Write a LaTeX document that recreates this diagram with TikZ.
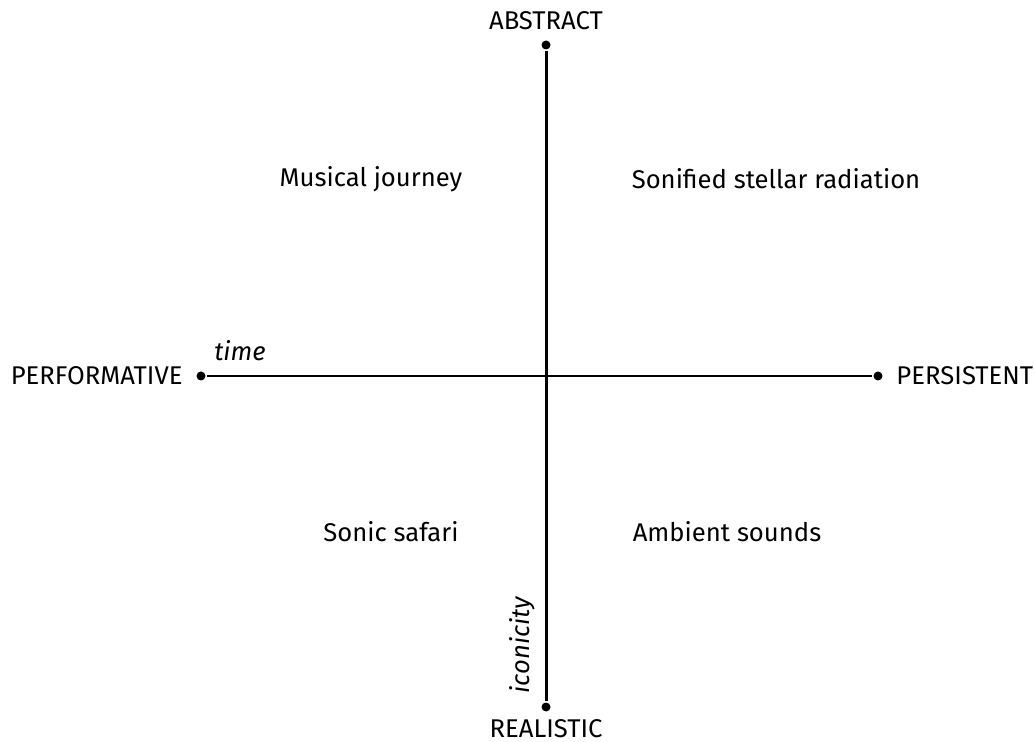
\documentclass[tikz,border=0pt]{standalone}
\usepackage{fontspec}
\setmainfont{Fira Sans}
\usetikzlibrary{positioning}

\begin{document}
\begin{tikzpicture}[x=0.02cm,y=-0.02cm,line width=1.7pt,
  pole/.style={font=\fontsize{14.6}{16}\selectfont,inner sep=0pt},
  example/.style={font=\fontsize{14.6}{16}\selectfont,inner sep=0pt},
  axislabel/.style={font=\fontsize{14.6}{16}\selectfont\itshape,inner sep=0pt},
  end dot/.style={circle,fill=black,inner sep=0pt,minimum size=0.18cm}]

  \useasboundingbox (0,0) rectangle (1034,742);

  % axis ends
  \node[end dot] (top) at (546,45) {};
  \node[end dot] (bottom) at (546,707) {};
  \node[end dot] (left) at (201,376) {};
  \node[end dot] (right) at (878,376) {};

  \draw (top) -- (bottom);
  \draw (left) -- (right);

  % poles
  \node[pole] (abstract) at (546,21) {ABSTRACT};
  \node[pole,anchor=base] (realistic) at (546,737) {REALISTIC};
  \node[pole,left=0.22cm of left] (performative) {PERFORMATIVE};
  \node[pole,right=0.22cm of right] (persistent) {PERSISTENT};

  % axis names
  \node[axislabel] (time) at (240,351) {time};
  \node[axislabel,rotate=90] (iconicity) at (522,645) {iconicity};

  % examples
  \node[example] (journey) at (371,179) {Musical journey};
  \node[example] (stellar) at (776,179) {Sonified stellar radiation};
  \node[example] (safari) at (391,532) {Sonic safari};
  \node[example] (ambient) at (727,532) {Ambient sounds};
\end{tikzpicture}
\end{document}
